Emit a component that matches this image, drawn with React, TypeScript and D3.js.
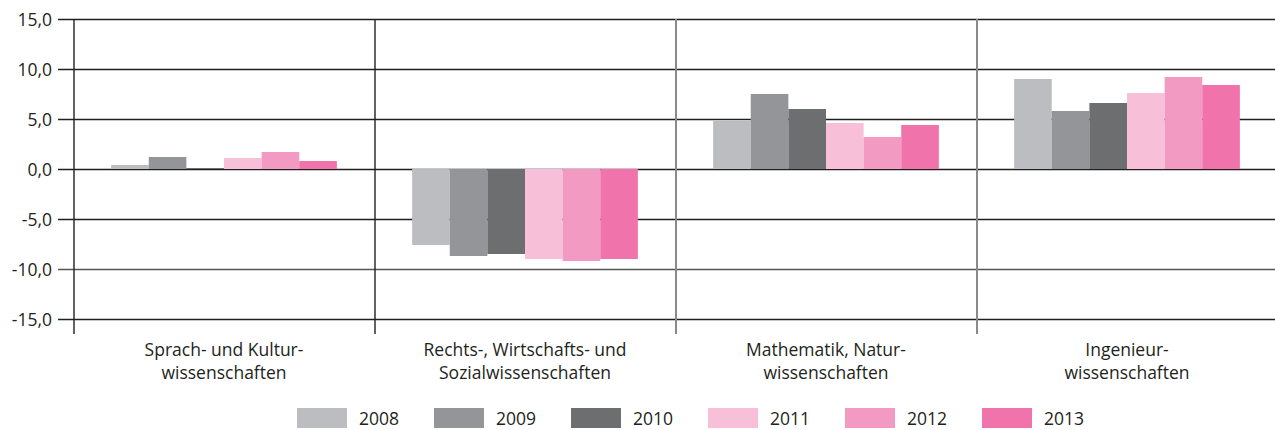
import React, { useEffect, useRef } from "react";
import * as d3 from "d3";

// Fächergruppen
const categories = [
  ["Sprach- und Kultur-", "wissenschaften"],
  ["Rechts-, Wirtschafts- und", "Sozialwissenschaften"],
  ["Mathematik, Natur-", "wissenschaften"],
  ["Ingenieur-", "wissenschaften"],
];
const years = ["2008", "2009", "2010", "2011", "2012", "2013"];
const colors = ["#bcbdc0", "#939598", "#6d6e70", "#f7bfd8", "#f39ac2", "#f173ac"];

// one array per category, values per year
const sprachKultur = [0.4, 1.2, 0.1, 1.1, 1.7, 0.8];
const rechtsWiSo = [-7.6, -8.7, -8.5, -9.0, -9.2, -9.0];
const matheNatur = [4.8, 7.5, 6.0, 4.6, 3.2, 4.4];
const ingenieur = [9.0, 5.8, 6.6, 7.6, 9.2, 8.4];
const values = [sprachKultur, rechtsWiSo, matheNatur, ingenieur];

const yTicks = [15, 10, 5, 0, -5, -10, -15];

const App = () => {
  const ref = useRef<SVGSVGElement | null>(null);

  useEffect(() => {
    const width = 1275;
    const height = 430;
    const left = 73.5;
    const right = 1277.5;
    const top = 19;
    const bottom = 319;

    const svg = d3.select(ref.current);
    svg.selectAll("*").remove();
    svg.attr("width", width).attr("height", height);

    const font = "'Open Sans', 'Noto Sans', sans-serif";

    const y = d3.scaleLinear().domain([-15, 15]).range([bottom, top]);
    const x0 = d3
      .scaleBand()
      .domain(categories.map((c, i) => String(i)))
      .range([left, right])
      .padding(0);
    const x1 = d3
      .scaleBand()
      .domain(years)
      .range([0, x0.bandwidth()])
      .paddingInner(0)
      .paddingOuter(1);

    // gridlines + tick marks
    svg
      .append("g")
      .selectAll("line")
      .data(yTicks)
      .enter()
      .append("line")
      .attr("x1", 58)
      .attr("x2", width)
      .attr("y1", (d) => Math.round(y(d)) + 0.5)
      .attr("y2", (d) => Math.round(y(d)) + 0.5)
      .attr("stroke", (d) => (d === -10 ? "#555" : "#231f20"))
      .attr("stroke-width", 1.4);

    // y labels
    svg
      .append("g")
      .selectAll("text")
      .data(yTicks)
      .enter()
      .append("text")
      .attr("x", 52)
      .attr("y", (d) => y(d) + 6.5)
      .attr("text-anchor", "end")
      .attr("font-family", font)
      .attr("font-size", 17.5)
      .attr("fill", "#231f20")
      .text((d) => d.toFixed(1).replace(".", ","));

    // bars
    const groups = svg
      .append("g")
      .selectAll("g")
      .data(values)
      .enter()
      .append("g")
      .attr("transform", (d, i) => "translate(" + x0(String(i)) + ",0)");

    groups
      .selectAll("rect")
      .data((d) => d.map((v, j) => ({ v, year: years[j], color: colors[j] })))
      .enter()
      .append("rect")
      .attr("x", (d) => x1(d.year) as number)
      .attr("width", x1.bandwidth())
      .attr("y", (d) => y(Math.max(0, d.v)))
      .attr("height", (d) => Math.abs(y(d.v) - y(0)))
      .attr("fill", (d) => d.color);

    // vertical separators
    const seps = [left, ...categories.slice(1).map((c, i) => x0(String(i + 1)) as number)];
    svg
      .append("g")
      .selectAll("line")
      .data(seps)
      .enter()
      .append("line")
      .attr("x1", (d) => Math.round(d))
      .attr("x2", (d) => Math.round(d))
      .attr("y1", top)
      .attr("y2", 334)
      .attr("stroke", (d, i) => (i < 2 ? "#231f20" : "#8a8a8c"))
      .attr("stroke-width", (d, i) => (i < 2 ? 1.4 : 2));

    // category labels
    const catText = svg
      .append("g")
      .selectAll("text")
      .data(categories)
      .enter()
      .append("text")
      .attr("text-anchor", "middle")
      .attr("font-family", font)
      .attr("font-size", 17.5)
      .attr("fill", "#231f20");
    catText
      .selectAll("tspan")
      .data((d, i) => d.map((line) => ({ line, i })))
      .enter()
      .append("tspan")
      .attr("x", (d) => (x0(String(d.i)) as number) + x0.bandwidth() / 2)
      .attr("y", (d, k) => 356 + k * 23)
      .text((d) => d.line);

    // legend
    const legend = svg
      .append("g")
      .selectAll("g")
      .data(years)
      .enter()
      .append("g")
      .attr("transform", (d, i) => "translate(" + (297 + i * 137) + ",408)");
    legend
      .append("rect")
      .attr("width", 50)
      .attr("height", 20)
      .attr("fill", (d, i) => colors[i]);
    legend
      .append("text")
      .attr("x", 62)
      .attr("y", 16.5)
      .attr("font-family", font)
      .attr("font-size", 17.5)
      .attr("fill", "#231f20")
      .text((d) => d);
  }, []);

  return (
    <svg
      ref={ref}
      style={{ position: "absolute", left: 0, top: 0, background: "#fff" }}
    />
  );
};

export default App;
